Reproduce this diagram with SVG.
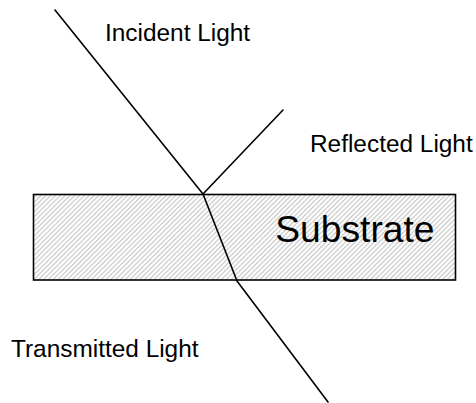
<svg xmlns="http://www.w3.org/2000/svg" width="476" height="403" viewBox="0 0 476 403">
  <style>
    .lbl { font-family: "Liberation Sans", Arial, sans-serif; font-size: 24.4px; fill: #000; }
    .ray { stroke: #000; stroke-width: 1.6; fill: none; stroke-linecap: round; stroke-linejoin: round; }
  </style>
  <defs>
    <pattern id="hatch" patternUnits="userSpaceOnUse" width="3.4" height="3.4" patternTransform="rotate(45)">
      <rect width="3.4" height="3.4" fill="#fff"/>
      <line x1="0.6" y1="0" x2="0.6" y2="3.4" stroke="#c4c4c4" stroke-width="1.1"/>
    </pattern>
  </defs>
  <rect width="476" height="403" fill="#fff"/>
  <g id="substrate">
    <rect x="33.5" y="194.5" width="422" height="85.5" fill="url(#hatch)" stroke="#000" stroke-width="1.6"/>
    <text x="275.3" y="241.8" class="lbl" style="font-size:37.2px">Substrate</text>
  </g>
  <g id="connectors">
    <polyline class="ray" points="55,10 203,194 237,281 328,402"/>
    <line class="ray" x1="203" y1="194" x2="283" y2="110"/>
  </g>
  <g id="incident">
    <text x="105" y="41" class="lbl">Incident Light</text>
  </g>
  <g id="reflected">
    <text x="310" y="151.5" class="lbl">Reflected Light</text>
  </g>
  <g id="transmitted">
    <text x="11" y="357" class="lbl">Transmitted Light</text>
  </g>
</svg>
